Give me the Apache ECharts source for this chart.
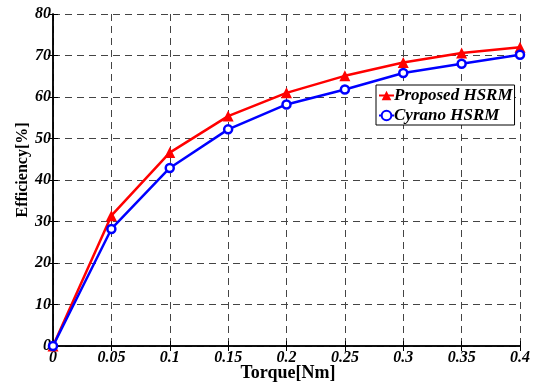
<!DOCTYPE html>
<html>
<head>
<meta charset="utf-8">
<script src="https://cdn.jsdelivr.net/npm/echarts@6/dist/echarts.min.js"></script>
<style>
  html, body { margin: 0; padding: 0; background: #fff; }
  #chart { width: 538px; height: 384px; }
</style>
</head>
<body>
<div id="chart"></div>
<script>
// Torque sweep (Nm)
const torque = [0, 0.05, 0.1, 0.15, 0.2, 0.25, 0.3, 0.35, 0.4];
// Efficiency (%) of each machine
const proposedEff = [0, 31.4, 46.6, 55.4, 61.0, 65.1, 68.3, 70.6, 72.0];
const cyranoEff   = [0, 28.2, 42.9, 52.2, 58.2, 61.8, 65.8, 68.0, 70.2];
const seriesNames = ['Proposed HSRM', 'Cyrano HSRM'];
const xTitle = 'Torque[Nm]';
const yTitle = 'Efficiency[%]';

const serif = '"Liberation Serif", "Times New Roman", serif';
const pairs = (xs, ys) => xs.map((x, i) => [x, ys[i]]);

const tickLabel = {
  fontFamily: serif, fontWeight: 'bold', fontStyle: 'italic',
  fontSize: 16, color: '#000'
};
const gridLine = { show: true, lineStyle: { color: '#444', type: [7, 5], width: 1 } };
const boxAxis = {
  axisLine: { show: true, lineStyle: { color: '#000', width: 1.5 } },
  axisTick: { show: true, inside: true, length: 5, lineStyle: { color: '#000' } }
};

const chart = echarts.init(document.getElementById('chart'));
chart.setOption({
  animation: false,
  backgroundColor: '#fff',
  grid: { left: 53, right: 18, top: 14, bottom: 38, containLabel: false, outerBoundsMode: 'none' },
  xAxis: [
    Object.assign({
      type: 'value', min: 0, max: 0.4, interval: 0.05,
      axisLabel: Object.assign({ margin: 4,
        formatter: v => String(Math.round(v * 100) / 100) }, tickLabel),
      splitLine: gridLine
    }, boxAxis),
    Object.assign({
      type: 'value', min: 0, max: 0.4, interval: 0.05, position: 'top',
      axisLabel: { show: false }, splitLine: { show: false }
    }, boxAxis)
  ],
  yAxis: [
    Object.assign({
      type: 'value', min: 0, max: 80, interval: 10,
      axisLabel: Object.assign({ margin: 2 }, tickLabel),
      splitLine: gridLine
    }, boxAxis),
    Object.assign({
      type: 'value', min: 0, max: 80, interval: 10, position: 'right',
      axisLabel: { show: false }, splitLine: { show: false }
    }, boxAxis)
  ],
  // Axis titles
  graphic: [
    {
      type: 'text', x: 288, y: 373,
      style: { text: xTitle, font: 'bold 18px ' + serif, fill: '#000',
               align: 'center', verticalAlign: 'middle' }
    },
    {
      type: 'text', x: 23, y: 170, rotation: Math.PI / 2,
      style: { text: yTitle, font: 'bold 16px ' + serif, fill: '#000',
               align: 'center', verticalAlign: 'middle' }
    }
  ],
  legend: {
    left: 376, top: 85, orient: 'vertical',
    backgroundColor: '#fff', borderColor: '#000', borderWidth: 1,
    padding: [2, 2, 1, 2], itemGap: 3,
    itemWidth: 15, itemHeight: 12,
    textStyle: { fontFamily: serif, fontWeight: 'bold', fontStyle: 'italic', fontSize: 17, color: '#000', padding: [0, 0, 0, -5] },
    data: seriesNames
  },
  series: [
    {
      name: seriesNames[0], type: 'line', data: pairs(torque, proposedEff),
      symbol: 'triangle', symbolSize: 11,
      lineStyle: { color: '#ff0000', width: 2.5 },
      itemStyle: { color: '#ff0000' },
      z: 3
    },
    {
      name: seriesNames[1], type: 'line', data: pairs(torque, cyranoEff),
      symbol: 'circle', symbolSize: 8,
      lineStyle: { color: '#0000ff', width: 2.5 },
      itemStyle: { color: '#fff', borderColor: '#0000ff', borderWidth: 2.5 },
      z: 4
    }
  ]
});
</script>
</body>
</html>
